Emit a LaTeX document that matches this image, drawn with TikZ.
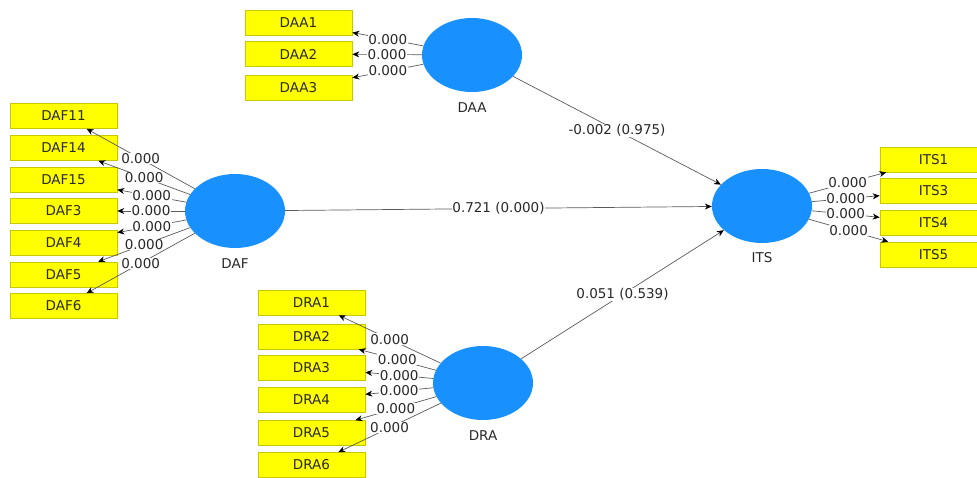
\documentclass[tikz,border=0pt]{standalone}
\usepackage{fontspec}
\setmainfont{DejaVu Sans}
\usetikzlibrary{arrows.meta}
\definecolor{latblue}{RGB}{24,145,255}
\definecolor{boxyellow}{RGB}{255,255,0}
\definecolor{boxedge}{RGB}{200,200,0}
\definecolor{linegray}{RGB}{90,90,90}
\definecolor{txt}{RGB}{40,40,40}
\tikzset{
  latent/.style={ellipse, fill=latblue, minimum width=100pt, minimum height=74pt, inner sep=0pt},
  ind/.style={rectangle, fill=boxyellow, draw=boxedge, line width=0.6pt, minimum width=107pt, minimum height=25pt, inner sep=0pt, font=\fontsize{13.5}{15}\selectfont, text=txt},
  lname/.style={font=\fontsize{13.5}{15}\selectfont, text=txt, inner sep=0pt},
  conn/.style={draw=linegray, line width=0.7pt, -{Stealth[length=7pt,width=6pt,black]}},
  wlabel/.style={fill=white, inner sep=0.6pt, font=\fontsize{13.5}{15}\selectfont, text=txt, midway}
}
\usetikzlibrary{shapes.geometric}
\begin{document}
\begin{tikzpicture}[x=1pt,y=-1pt]
\useasboundingbox (0,0) rectangle (977,478);
% latent variables
\node[latent] (DAA) at (472,55) {};
\node[latent] (DAF) at (235,211) {};
\node[latent] (DRA) at (483,383) {};
\node[latent] (ITS) at (762,206) {};
\node[lname] at (472,108) {DAA};
\node[lname] at (235,264) {DAF};
\node[lname] at (483,436) {DRA};
\node[lname] at (762,258) {ITS};
% indicators DAA
\node[ind] (DAA1) at (298.5,22.5) {DAA1};
\node[ind] (DAA2) at (298.5,54) {DAA2};
\node[ind] (DAA3) at (298.5,88) {DAA3};
% indicators DAF
\node[ind] (DAF11) at (63.5,116) {DAF11};
\node[ind] (DAF14) at (63.5,148) {DAF14};
\node[ind] (DAF15) at (63.5,180) {DAF15};
\node[ind] (DAF3) at (63.5,211) {DAF3};
\node[ind] (DAF4) at (63.5,242.5) {DAF4};
\node[ind] (DAF5) at (63.5,274.5) {DAF5};
\node[ind] (DAF6) at (63.5,306) {DAF6};
% indicators DRA
\node[ind] (DRA1) at (311.5,302.5) {DRA1};
\node[ind] (DRA2) at (311.5,336.5) {DRA2};
\node[ind] (DRA3) at (311.5,367.5) {DRA3};
\node[ind] (DRA4) at (311.5,399.5) {DRA4};
\node[ind] (DRA5) at (311.5,433) {DRA5};
\node[ind] (DRA6) at (311.5,465) {DRA6};
% indicators ITS
\node[ind] (ITS1) at (933.5,159.5) {ITS1};
\node[ind] (ITS3) at (933.5,191) {ITS3};
\node[ind] (ITS4) at (933.5,222.5) {ITS4};
\node[ind] (ITS5) at (933.5,254.5) {ITS5};
% loadings DAA
\foreach \t in {DAA1,DAA2,DAA3}
  \draw[conn] (DAA) -- (\t) node[wlabel] {0.000};
% loadings DAF
\foreach \t in {DAF11,DAF14,DAF15,DAF3,DAF4,DAF5,DAF6}
  \draw[conn] (DAF) -- (\t) node[wlabel] {0.000};
% loadings DRA
\foreach \t in {DRA1,DRA2,DRA3,DRA4,DRA5,DRA6}
  \draw[conn] (DRA) -- (\t) node[wlabel] {0.000};
% loadings ITS
\foreach \t in {ITS1,ITS3,ITS4,ITS5}
  \draw[conn] (ITS) -- (\t) node[wlabel] {0.000};
% structural paths
\draw[conn] (DAA) -- (ITS) node[wlabel] {-0.002 (0.975)};
\draw[conn] (DAF) -- (ITS) node[wlabel] {0.721 (0.000)};
\draw[conn] (DRA) -- (ITS) node[wlabel] {0.051 (0.539)};
\end{tikzpicture}
\end{document}
